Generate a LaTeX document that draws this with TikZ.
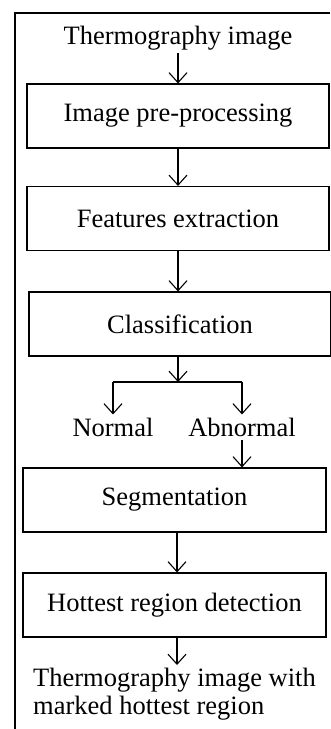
\documentclass[tikz,border=0pt]{standalone}
\usepackage{fontspec}
\setmainfont{Liberation Serif}
\usepackage{tikz}
\usetikzlibrary{arrows.meta}
\usetikzlibrary{positioning}

\tikzset{
    stepbox/.style={draw, line width=1.1pt, minimum height=64pt, inner sep=0pt},
    flow/.style={line width=1.1pt, -{Straight Barb[length=10pt,width=18pt,line width=1.1pt]}},
    label/.style={inner sep=3pt}
}

\begin{document}
\begin{tikzpicture}[x=1pt, y=1pt, font=\fontsize{26.5}{27.5}\selectfont]
    \useasboundingbox (0,0) rectangle (330,-729);
    \draw[line width=1.1pt] (330,-13) -- (15,-13) -- (15,-729);
    \node[label] (input) at (178,-38) {Thermography image};
    \node[stepbox, minimum width=302pt] (prep) at (178,-116) {Image pre-processing};
    \node[stepbox, minimum width=302pt] (feat) at (178,-218.5) {Features extraction};
    \node[stepbox, minimum width=302pt] (class) at (180,-324) {Classification};
    \coordinate (split) at (178,-382);
    \node[label] (normal) at (113,-427) {Normal};
    \node[label] (abnormal) at (242,-427) {Abnormal};
    \node[stepbox, minimum width=303pt] (seg) at (174.5,-500) {Segmentation};
    \node[stepbox, minimum width=303pt] (hot) at (174.5,-605) {Hottest region detection};
    \node[label, anchor=north west, align=left] (output) at (30,-665) {Thermography image with\\marked hottest region};
    % connectors
    \draw[flow] (input.south -| prep.north) -- (prep.north);
    \draw[flow] (prep.south) -- (feat.north);
    \draw[flow] (feat.south) -- (class.north -| feat.south);
    \draw[flow] (class.south -| split) -- (split);
    \draw[line width=1.1pt] (split -| normal) -- (split -| abnormal);
    \draw[flow] (split -| normal) -- (normal.north);
    \draw[flow] (split -| abnormal) -- (abnormal.north);
    \draw[flow] (abnormal.south) -- (abnormal.south |- seg.north);
    \draw[flow] (seg.south -| 177,0) -- (hot.north -| 177,0);
    \draw[flow] (hot.south -| 177,0) -- (output.north -| 177,0);
\end{tikzpicture}
\end{document}
